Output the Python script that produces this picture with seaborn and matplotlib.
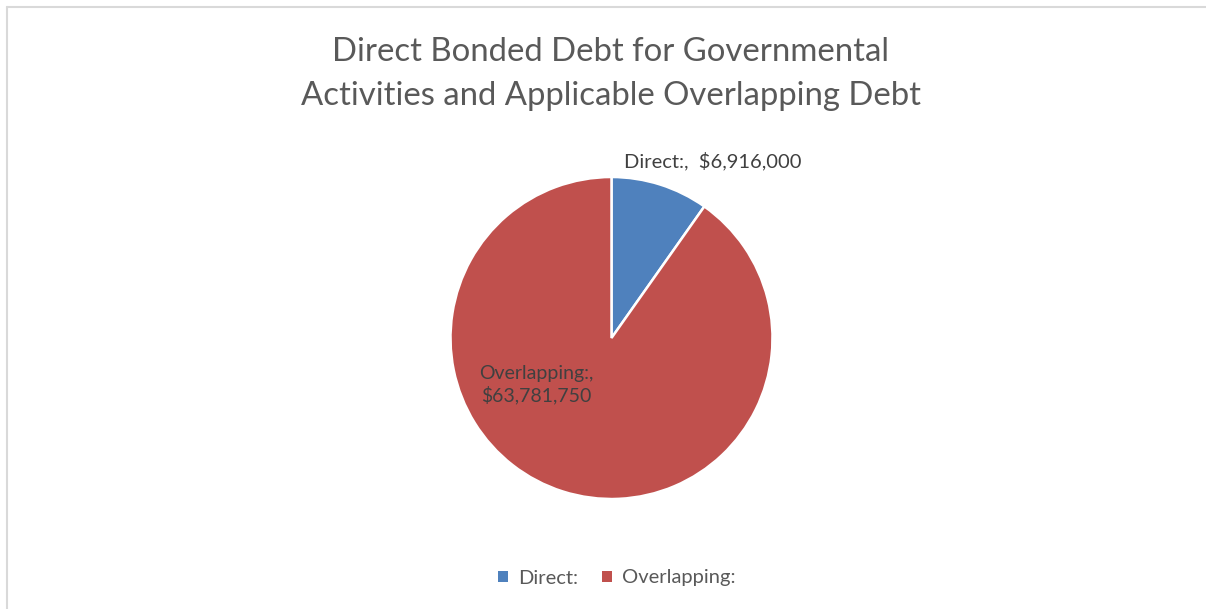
import matplotlib
matplotlib.use("Agg")
import matplotlib.pyplot as plt
from matplotlib.lines import Line2D
from matplotlib.patches import Patch
import seaborn as sns

# data
categories = ["Direct:", "Overlapping:"]
amounts = [6916000, 63781750]
slice_colors = ["#4F81BD", "#C0504D"]
point_labels = ["Direct:,  $6,916,000", "Overlapping:,\n$63,781,750"]

sns.set_theme(style="white")
plt.rcParams["font.family"] = ["Lato", "DejaVu Sans"]

W, H = 1206, 609
fig = plt.figure(figsize=(W / 100, H / 100), dpi=100)
fig.patch.set_facecolor("white")

# light frame (only top and left edges show in the picture)
frame = "#D9D9D9"
fig.add_artist(Line2D([7 / W, 1], [1 - 7 / H, 1 - 7 / H], color=frame, lw=1.5,
                      transform=fig.transFigure))
fig.add_artist(Line2D([7 / W, 7 / W], [0, 1 - 7 / H], color=frame, lw=1.5,
                      transform=fig.transFigure))

# title
fig.text(611 / W, 1 - 74 / H,
         "Direct Bonded Debt for Governmental\nActivities and Applicable Overlapping Debt",
         ha="center", va="center", fontsize=23.7, color="#595959", linespacing=1.58)

# pie
cx, cy, r = 611.5, 338, 161
ax = fig.add_axes([(cx - r) / W, (H - cy - r) / H, 2 * r / W, 2 * r / H])
wedges, _ = ax.pie(amounts, colors=slice_colors, startangle=90, counterclock=False,
                   radius=1, wedgeprops=dict(edgecolor="white", linewidth=1.8))
ax.set_xlim(-1, 1)
ax.set_ylim(-1, 1)
ax.set_aspect("equal")
ax.axis("off")

# data labels
ax.text(0.63, 1.10, point_labels[0], ha="center", va="center",
        fontsize=14.5, color="#404040", clip_on=False)
ax.text(-0.465, -0.29, point_labels[1], ha="center", va="center",
        fontsize=14, color="#404040", linespacing=1.25, clip_on=False)

# legend
handles = [Patch(facecolor=c, edgecolor="none") for c in slice_colors]
fig.legend(handles, categories, loc="center", bbox_to_anchor=(617 / W, 1 - 578 / H),
           ncol=2, frameon=False, fontsize=14.5, labelcolor="#595959",
           handlelength=0.5, handleheight=0.5, handletextpad=0.5, columnspacing=1.2)

fig.savefig("out.png", dpi=100, facecolor="white")
